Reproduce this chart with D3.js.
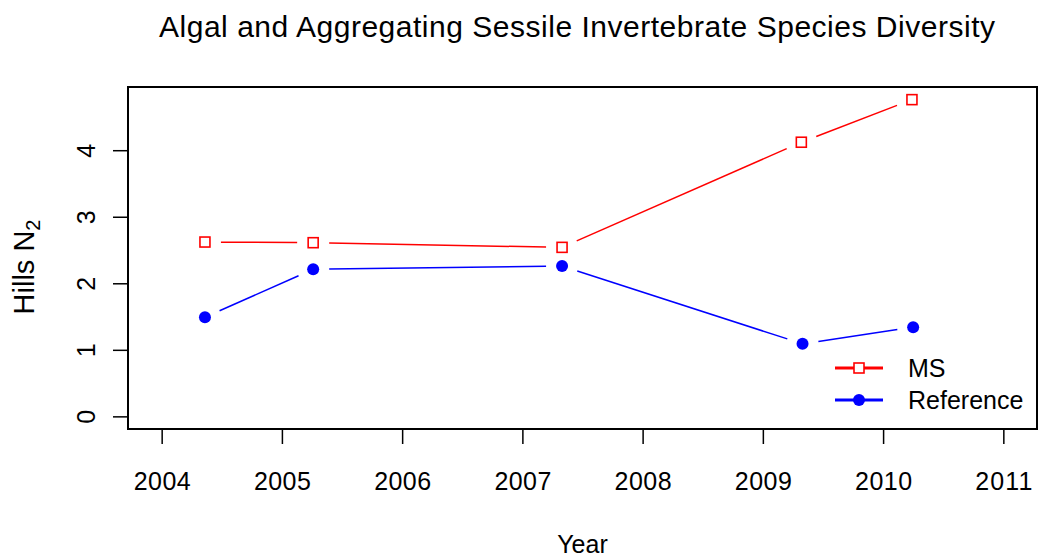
<!DOCTYPE html>
<html>
<head>
<meta charset="utf-8">
<script src="https://cdn.jsdelivr.net/npm/d3@7"></script>
<style>
  body { margin: 0; background: #fff; }
  text { font-family: "Liberation Sans", Arial, sans-serif; fill: #000; }
</style>
</head>
<body>
<div id="chart"></div>
<script>
// survey dates (decimal years) and Hills N2 values
var msYears = [2004.36, 2005.26, 2007.33, 2009.32, 2010.24];
var msValues = [2.62, 2.61, 2.54, 4.12, 4.76];
var refYears = [2004.36, 2005.26, 2007.33, 2009.33, 2010.25];
var refValues = [1.49, 2.21, 2.26, 1.09, 1.34];
var xTicks = [2004, 2005, 2006, 2007, 2008, 2009, 2010, 2011];
var yTicks = [0, 1, 2, 3, 4];
var seriesNames = ["MS", "Reference"];

var width = 1041, height = 558;
var margin = {top: 87, right: 4, bottom: 129, left: 128};
var w = width - margin.left - margin.right,
    h = height - margin.top - margin.bottom;

var svg = d3.select("#chart").append("svg")
  .attr("width", width).attr("height", height);

// R-style 4% padding on both axes
var x = d3.scaleLinear().domain([2004 - 0.28, 2011 + 0.28]).range([0, w]);
var y = d3.scaleLinear().domain([0 - 0.19, 4.76 + 0.19]).range([h, 0]);

var g = svg.append("g").attr("transform", "translate(" + margin.left + "," + margin.top + ")");

// axes
var xAxis = d3.axisBottom(x).tickValues(xTicks).tickFormat(d3.format("d")).tickSize(15).tickPadding(29);
var yAxis = d3.axisLeft(y).tickValues(yTicks).tickFormat(d3.format("d")).tickSize(15);

var gx = g.append("g").attr("transform", "translate(0," + h + ")").call(xAxis);
gx.select(".domain").remove();
gx.selectAll("line").attr("stroke", "#000").attr("stroke-width", 1.5);
gx.selectAll("text").attr("font-size", 25).attr("dy", "0.69em")
  .attr("font-family", "Liberation Sans, Arial, sans-serif")
  .attr("textLength", 57).attr("lengthAdjust", "spacing");

var gy = g.append("g").call(yAxis);
gy.select(".domain").remove();
gy.selectAll("line").attr("stroke", "#000").attr("stroke-width", 1.5);
gy.selectAll("text").attr("font-size", 25)
  .attr("font-family", "Liberation Sans, Arial, sans-serif")
  .attr("text-anchor", "middle").attr("dy", null).attr("x", null)
  .attr("transform", "translate(-41,0) rotate(-90)")
  .attr("y", 8);

// box
g.append("rect").attr("width", w).attr("height", h)
  .attr("fill", "none").attr("stroke", "#000").attr("stroke-width", 2);

// type="b" lines: segments with a gap around each point
function drawSeries(xs, ys, color) {
  var pts = xs.map(function(d, i) { return [x(d), y(ys[i])]; });
  var gap = 16;
  for (var i = 0; i < pts.length - 1; i++) {
    var a = pts[i], b = pts[i + 1];
    var dx = b[0] - a[0], dy = b[1] - a[1], len = Math.sqrt(dx * dx + dy * dy);
    if (len <= 2 * gap) continue;
    var ux = dx / len, uy = dy / len;
    g.append("line")
      .attr("x1", a[0] + ux * gap).attr("y1", a[1] + uy * gap)
      .attr("x2", b[0] - ux * gap).attr("y2", b[1] - uy * gap)
      .attr("stroke", color).attr("stroke-width", 1.5);
  }
  return pts;
}

var msPts = drawSeries(msYears, msValues, "#ff0000");
var refPts = drawSeries(refYears, refValues, "#0000ff");

g.selectAll(".ms").data(msPts).enter().append("rect")
  .attr("x", function(d) { return d[0] - 5; }).attr("y", function(d) { return d[1] - 5; })
  .attr("width", 10).attr("height", 10)
  .attr("fill", "none").attr("stroke", "#ff0000").attr("stroke-width", 1.6);

g.selectAll(".ref").data(refPts).enter().append("circle")
  .attr("cx", function(d) { return d[0]; }).attr("cy", function(d) { return d[1]; })
  .attr("r", 6).attr("fill", "#0000ff");

// legend
var legend = svg.append("g").attr("transform", "translate(835,368)");
var colors = ["#ff0000", "#0000ff"];
seriesNames.forEach(function(name, i) {
  var row = legend.append("g").attr("transform", "translate(0," + (i * 32) + ")");
  row.append("line").attr("x1", 0).attr("x2", 48).attr("y1", 0).attr("y2", 0)
    .attr("stroke", colors[i]).attr("stroke-width", 3);
  if (i === 0) {
    row.append("rect").attr("x", 19).attr("y", -5).attr("width", 10).attr("height", 10)
      .attr("fill", "#fff").attr("stroke", colors[i]).attr("stroke-width", 1.6);
  } else {
    row.append("circle").attr("cx", 24).attr("cy", 0).attr("r", 6).attr("fill", colors[i]);
  }
  row.append("text").attr("x", 73).attr("y", 9).attr("font-size", 25).text(name);
});

// title and axis labels
svg.append("text").attr("x", 577).attr("y", 37)
  .attr("text-anchor", "middle").attr("font-size", 30)
  .attr("textLength", 836).attr("lengthAdjust", "spacing")
  .text("Algal and Aggregating Sessile Invertebrate Species Diversity");

svg.append("text").attr("x", margin.left + w / 2).attr("y", 553)
  .attr("text-anchor", "middle").attr("font-size", 25).text("Year");

var yl = svg.append("text").attr("transform", "translate(34,267) rotate(-90)")
  .attr("text-anchor", "middle").attr("font-size", 29);
yl.append("tspan").text("Hills N");
yl.append("tspan").attr("font-size", 20).attr("dy", 6).text("2");
</script>
</body>
</html>
